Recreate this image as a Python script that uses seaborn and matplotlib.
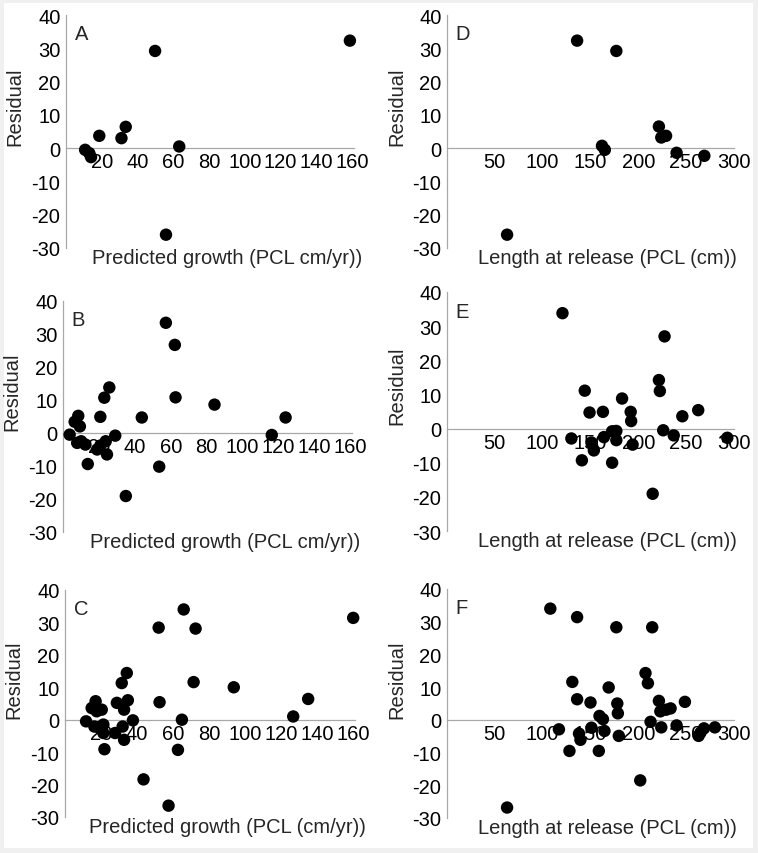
import numpy as np
import pandas as pd
import matplotlib
matplotlib.use("Agg")
import matplotlib.pyplot as plt
import seaborn as sns
from matplotlib.patches import Rectangle

sns.set_style("white")
plt.rcParams['font.family'] = ['Liberation Sans', 'DejaVu Sans']
plt.rcParams['axes.unicode_minus'] = False

# ---- data ----
A_x = [10.7, 13.0, 14.0, 18.6, 31.0, 33.4, 49.8, 63.3, 55.9, 158.7]
A_y = [-0.5, -1.5, -2.7, 3.7, 3.0, 6.4, 29.2, 0.5, -26.0, 32.3]

D_x = [62.8, 136.0, 177.0, 162.0, 165.0, 221.5, 224.0, 229.0, 240.0, 269.0]
D_y = [-26.0, 32.3, 29.2, 0.7, -0.5, 6.5, 3.2, 3.7, -1.4, -2.3]

B_x = [3.7, 6.5, 8.5, 9.4, 7.9, 10.1, 12.5, 13.8, 19.0, 20.8, 20.8, 23.0, 23.8,
       24.5, 25.8, 29.1, 35.0, 43.9, 53.6, 57.3, 62.3, 62.7, 84.4, 116.3, 124.0]
B_y = [-0.5, 3.4, 5.2, 2.0, -3.0, -2.5, -3.5, -9.4, -5.0, 4.9, -3.8, 10.7, -2.5,
       -6.5, 13.8, -0.8, -19.1, 4.7, -10.2, 33.4, 26.7, 10.8, 8.6, -0.6, 4.7]

E_x = [120.7, 130.0, 141.0, 144.0, 149.0, 151.0, 153.5, 163.0, 164.0, 172.6, 172.6,
       177.0, 177.0, 183.0, 192.0, 192.5, 194.0, 215.0, 221.5, 222.5, 226.0, 227.4,
       237.0, 246.0, 262.6, 293.0]
E_y = [33.8, -2.9, -9.3, 11.1, 4.7, -4.1, -6.4, 4.9, -2.5, -0.8, -10.0,
       -0.7, -3.4, 8.8, 4.9, 2.2, -4.7, -19.1, 14.2, 11.0, -0.5, 27.0,
       -2.0, 3.6, 5.4, -2.7]

C_x = [11.7, 14.8, 17.0, 17.6, 16.3, 18.5, 20.4, 21.3, 21.3, 21.9, 27.8, 28.8,
       31.5, 32.0, 32.8, 32.8, 34.9, 34.3, 37.7, 43.6, 52.0, 52.5, 57.5, 62.7,
       64.9, 65.9, 72.5, 71.4, 93.7, 126.7, 135.0, 160.0]
C_y = [-0.5, 3.6, 5.7, 2.6, -2.1, -2.3, 3.1, -1.5, -4.1, -9.1, -4.1, 5.2,
       11.3, -2.1, 3.1, -6.2, 6.0, 14.4, -0.2, -18.4, 28.4, 5.4, -26.5, -9.3,
       0.0, 34.0, 28.1, 11.6, 10.0, 1.0, 6.4, 31.4]

F_x = [62.8, 108.0, 117.0, 128.0, 131.0, 136.0, 136.0, 138.0, 139.5, 150.0, 151.0,
       158.7, 159.4, 163.0, 164.6, 169.0, 177.0, 178.0, 178.6, 179.6, 202.0, 207.5,
       210.0, 212.8, 214.5, 221.5, 223.0, 224.0, 229.0, 233.7, 240.0, 248.7, 263.0,
       265.0, 268.6, 280.0]
F_y = [-26.8, 34.0, -2.9, -9.5, 11.6, 31.4, 6.3, -4.2, -6.1, 5.3, -2.4,
       -9.5, 1.2, 0.2, -3.4, 9.9, 28.3, 5.0, 2.0, -4.9, -18.5, 14.3,
       11.2, -0.6, 28.3, 5.8, 2.6, -2.3, 3.1, 3.5, -1.7, 5.5, -4.9,
       -3.9, -2.6, -2.3]

growth_ticks = [20, 40, 60, 80, 100, 120, 140, 160]
length_ticks = [50, 100, 150, 200, 250, 300]
y_ticks = [-30, -20, -10, 0, 10, 20, 30, 40]

W, H = 758, 854
fig = plt.figure(figsize=(W / 100, H / 100), dpi=100, facecolor='#f0f0f0')
fig.patches.append(Rectangle((4 / W, 1 - 849 / H), (753 - 4) / W, (849 - 4) / H,
                             transform=fig.transFigure, facecolor='white',
                             edgecolor='none', zorder=-10))

def px_axes(left, right, top, bottom):
    return fig.add_axes([left / W, 1 - bottom / H, (right - left) / W, (bottom - top) / H])

panels = [
    ("A", A_x, A_y, (66, 354, 16, 249), 'growth', "Predicted growth (PCL cm/yr))"),
    ("D", D_x, D_y, (447, 734, 16, 249), 'length', "Length at release (PCL (cm))"),
    ("B", B_x, B_y, (63, 352, 302, 533), 'growth', "Predicted growth (PCL cm/yr))"),
    ("E", E_x, E_y, (447, 734, 293, 532), 'length', "Length at release (PCL (cm))"),
    ("C", C_x, C_y, (65, 355, 591, 818), 'growth', "Predicted growth (PCL (cm/yr))"),
    ("F", F_x, F_y, (447, 734, 590, 819), 'length', "Length at release (PCL (cm))"),
]

axis_col = '#a8a8a8'
fs = 14.5
for letter, xs, ys, box, kind, xlabel in panels:
    ax = px_axes(*box)
    ax.set_facecolor('none')
    df = pd.DataFrame({'x': xs, 'y': ys})
    sns.scatterplot(data=df, x='x', y='y', ax=ax, color='black', s=80,
                    edgecolor='none', clip_on=False, zorder=3)
    if kind == 'growth':
        ax.set_xlim(0, 161)
        ax.set_xticks(growth_ticks)
    else:
        ax.set_xlim(0, 300)
        ax.set_xticks(length_ticks)
    ax.set_ylim(-30, 40)
    ax.set_yticks(y_ticks)
    ax.spines['top'].set_visible(False)
    ax.spines['right'].set_visible(False)
    ax.spines['bottom'].set_position(('data', 0))
    for s in ('left', 'bottom'):
        ax.spines[s].set_color(axis_col)
        ax.spines[s].set_linewidth(0.9)
    ax.tick_params(axis='y', length=3, color=axis_col, labelsize=fs, pad=1,
                   labelcolor='black')
    ax.tick_params(axis='x', length=0, labelsize=fs, pad=3, labelcolor='black')
    ax.set_ylabel("Residual", fontsize=fs)
    ax.yaxis.label.set_va('center')
    ax.yaxis.set_label_coords(-0.176, 0.61)
    ax.set_xlabel(xlabel, fontsize=fs)
    ax.xaxis.set_label_coords(0.56, -0.0)
    ax.xaxis.label.set_va('top')
    ax.text(0.03, 0.92, letter, transform=ax.transAxes, fontsize=fs,
            ha='left', va='center')

fig.savefig("out.png", dpi=100, facecolor=fig.get_facecolor())
